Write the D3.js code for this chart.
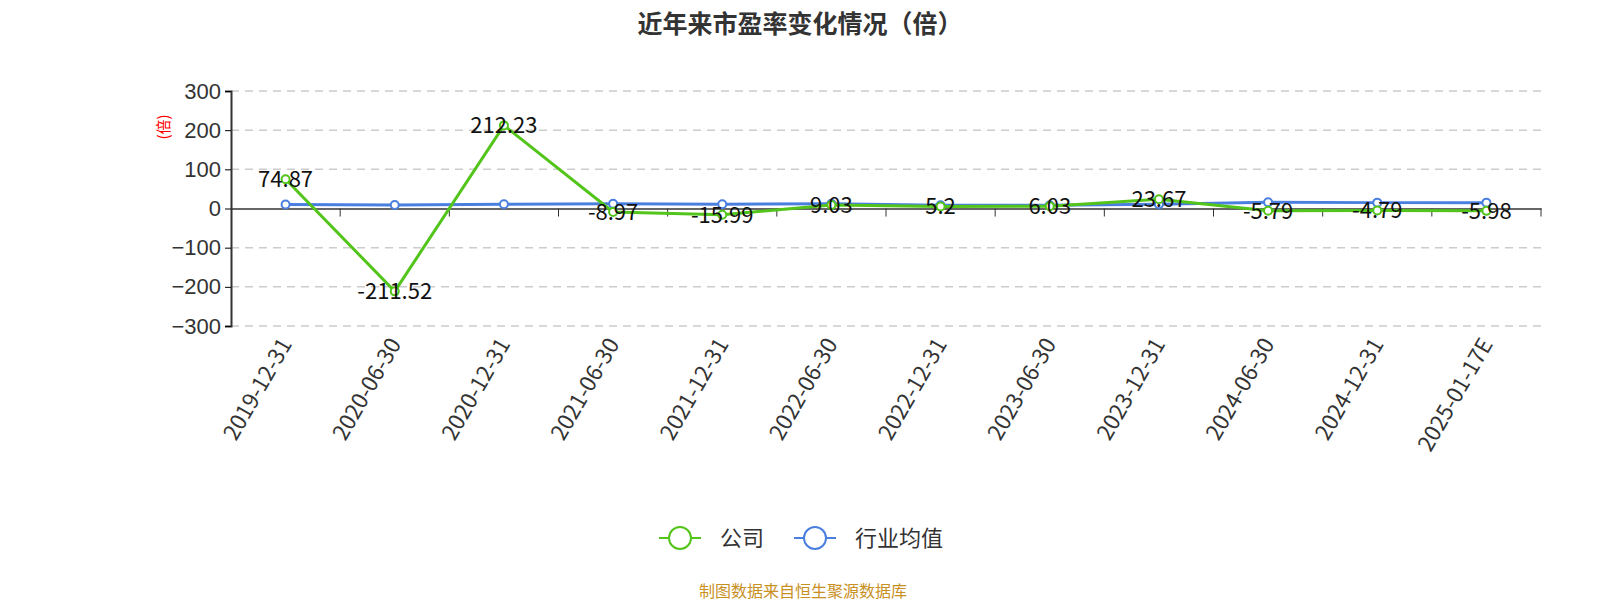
<!DOCTYPE html>
<html lang="zh">
<head>
<meta charset="UTF-8">
<title>近年来市盈率变化情况（倍）</title>
<style>
  body { margin: 0; background: #fff; }
  svg { font-family: "Microsoft YaHei", "Noto Sans CJK SC", sans-serif; }
</style>
<script src="https://cdn.jsdelivr.net/npm/d3@7"></script>
</head>
<body>
<svg width="1600" height="600"></svg>
<script>
var categories = ["2019-12-31","2020-06-30","2020-12-31","2021-06-30","2021-12-31","2022-06-30","2022-12-31","2023-06-30","2023-12-31","2024-06-30","2024-12-31","2025-01-17E"];
var company = [74.87,-211.52,212.23,-8.97,-15.99,9.03,5.2,6.03,23.67,-5.79,-4.79,-5.98];
var industry = [10,9,11,12,11,12,8,8,11,16,15,15];
var yTicks = [-300,-200,-100,0,100,200,300];

var svg = d3.select("svg");
var x = d3.scaleBand().domain(categories).range([231, 1541]);
var y = d3.scaleLinear().domain([-300, 300]).range([326, 91]);
var cx = function(d, i) { return x(categories[i]) + x.bandwidth() / 2; };

svg.append("text").attr("x", 800).attr("y", 33).attr("text-anchor", "middle")
  .attr("font-size", 25).attr("font-weight", "bold").attr("fill", "#333").text("近年来市盈率变化情况（倍）");

// grid
svg.append("g").selectAll("line").data(yTicks.filter(function(t){ return t !== 0; })).join("line")
  .attr("x1", 231).attr("x2", 1541).attr("y1", y).attr("y2", y)
  .attr("stroke", "#ccc").attr("stroke-dasharray", "8,6").attr("stroke-width", 1.5);

var ya = svg.append("g").attr("transform", "translate(231,0)")
  .call(d3.axisLeft(y).tickValues(yTicks).tickSize(6).tickPadding(4));
ya.select(".domain").attr("stroke", "#333").attr("stroke-width", 2);
ya.selectAll("text").attr("font-size", 22).attr("fill", "#333");

var xa = svg.append("g").attr("transform", "translate(0," + y(0) + ")")
  .call(d3.axisBottom(x).tickSize(0).tickFormat(""));
xa.select(".domain").attr("stroke", "#333").attr("stroke-width", 1.5);
svg.append("g").selectAll("line").data(categories).join("line")
  .attr("x1", function(d, i){ return 231 + x.bandwidth() * (i + 1); })
  .attr("x2", function(d, i){ return 231 + x.bandwidth() * (i + 1); })
  .attr("y1", y(0)).attr("y2", y(0) + 8).attr("stroke", "#333");

svg.append("g").selectAll("text").data(categories).join("text")
  .attr("transform", function(d, i){ return "translate(" + (cx(d, i) + 7) + ",344) rotate(-60)"; })
  .attr("text-anchor", "end").attr("font-size", 22).attr("fill", "#333").text(function(d){ return d; });

svg.append("text").attr("transform", "translate(169,127) rotate(-90)").attr("text-anchor", "middle")
  .attr("font-size", 15).attr("fill", "red").text("(倍)");

var line = d3.line().x(cx).y(function(d){ return y(d); });
function series(data, color) {
  svg.append("path").datum(data).attr("d", line).attr("fill", "none").attr("stroke", color).attr("stroke-width", 3);
  svg.append("g").selectAll("circle").data(data).join("circle")
    .attr("cx", cx).attr("cy", function(d){ return y(d); }).attr("r", 4)
    .attr("fill", "#fff").attr("stroke", color).attr("stroke-width", 2);
}
series(industry, "#4a7fe0");
series(company, "#52c41a");

svg.append("g").selectAll("text").data(company).join("text")
  .attr("x", cx).attr("y", function(d){ return y(d) + 8; })
  .attr("text-anchor", "middle").attr("font-size", 22).attr("fill", "#111")
  .text(function(d){ return d; });

// legend
var legend = [["公司", "#52c41a", 659], ["行业均值", "#4a7fe0", 794]];
legend.forEach(function(l) {
  var g = svg.append("g").attr("transform", "translate(" + l[2] + ",538)");
  g.append("line").attr("x1", 0).attr("x2", 42).attr("stroke", l[1]).attr("stroke-width", 2);
  g.append("circle").attr("cx", 21).attr("r", 11).attr("fill", "#fff").attr("stroke", l[1]).attr("stroke-width", 2);
  g.append("text").attr("x", 61).attr("y", 8).attr("font-size", 22).attr("fill", "#333").text(l[0]);
});

svg.append("text").attr("x", 803).attr("y", 597).attr("text-anchor", "middle")
  .attr("font-size", 16).attr("fill", "#c8901e").text("制图数据来自恒生聚源数据库");
</script>
</body>
</html>
